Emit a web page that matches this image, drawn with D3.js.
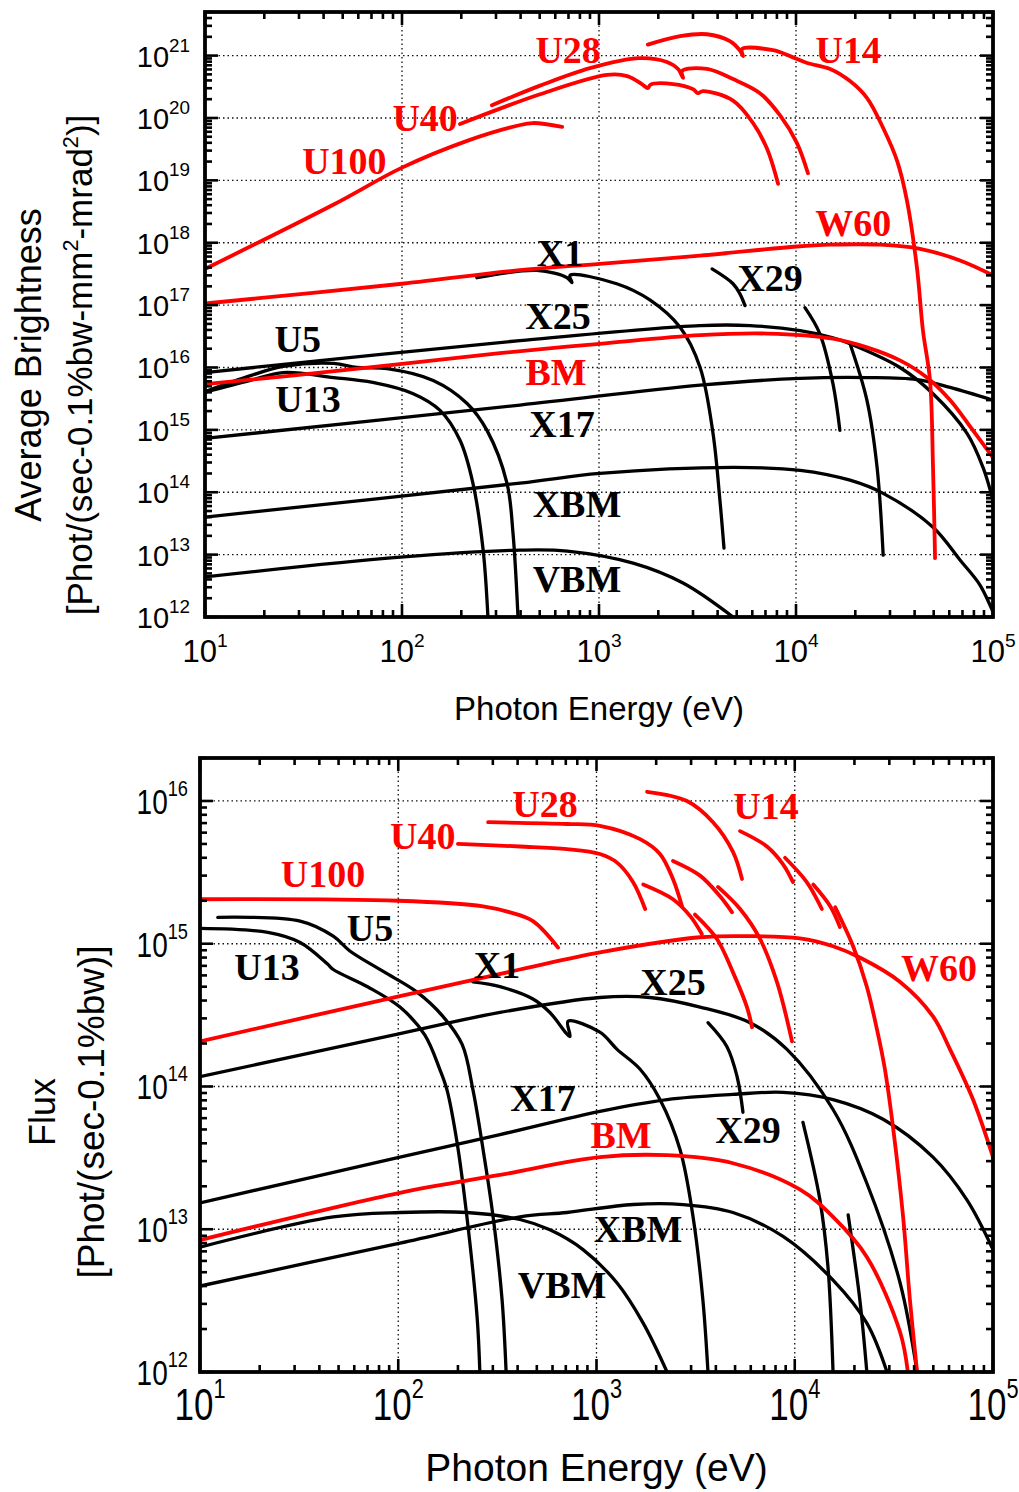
<!DOCTYPE html>
<html>
<head>
<meta charset="utf-8">
<script src="https://cdn.jsdelivr.net/npm/d3@7"></script>
<style>
  body { margin: 0; background: #fff; }
  svg { display: block; }
</style>
</head>
<body>
<svg width="1019" height="1492"></svg>
<script>
// top panel: average brightness, [eV, Phot/(sec-0.1%bw-mm2-mrad2)]
var briU100 = [[10, 3.8e17], [45, 4.1e18], [100, 1.6e19], [214, 4.3e19], [384, 7.5e19], [462, 8.3e19], [650, 7.2e19]]
var briU40 = [[197, 8.0e19], [502, 2.4e20], [1100, 4.9e20], [1390, 4.7e20], [1650, 3.5e20], [1770, 3.0e20], [1820, 3.4e20], [2380, 3.5e20], [3000, 2.9e20], [3180, 2.5e20], [3370, 2.7e20], [4790, 1.9e20], [6050, 8.3e19], [7130, 3.2e19], [8110, 8.8e18]]
var briU28 = [[286, 1.6e20], [502, 3.3e20], [900, 6.3e20], [1610, 9.1e20], [2210, 7.9e20], [2520, 6.1e20], [2670, 4.4e20], [2640, 5.7e20], [3530, 6.1e20], [4790, 4.2e20], [6560, 2.5e20], [8300, 1.1e20], [10100, 4.0e19], [11500, 1.3e19]]
var briU14 = [[1770, 1.5e21], [2580, 2.05e21], [3530, 2.2e21], [4620, 1.7e21], [5200, 1.2e21], [5380, 9.8e20], [5320, 1.27e21], [7640, 1.22e21], [9330, 9.8e20], [11400, 7.6e20], [14900, 6.1e20], [18800, 3.9e20], [22900, 2.1e20], [27700, 6.9e19], [32600, 2.05e19], [36600, 4.7e18], [41100, 4.0e17], [44100, 3.9e16], [47900, 6.2e15], [49600, 2.5e14], [50800, 8.8e12]]
var briW60 = [[10, 1.06e17], [100, 2.2e17], [384, 3.6e17], [1010, 4.6e17], [3260, 6.2e17], [10100, 8.7e17], [14900, 9.3e17], [26700, 9.3e17], [42600, 8.0e17], [68000, 5.2e17], [100000, 3.0e17]]
var briBM = [[10, 5.4e15], [55, 9.3e15], [314, 1.7e16], [1010, 2.4e16], [3260, 3.3e16], [7130, 3.5e16], [15400, 2.9e16], [22900, 2.1e16], [33700, 1.3e16], [46200, 6.9e15], [60500, 3.0e15], [79100, 9.8e14], [100000, 3.6e14]]
var briX25 = [[10, 8.3e15], [397, 2.7e16], [3260, 4.7e16], [5840, 4.7e16], [10500, 3.9e16], [15400, 3.0e16], [18800, 2.4e16], [33700, 1.0e16], [49600, 3.8e15], [73800, 8.8e14], [89000, 2.5e14], [100000, 7.4e13]]
var briX17 = [[10, 7.3e14], [397, 2.5e15], [3260, 5.2e15], [10500, 6.7e15], [22900, 6.9e15], [41100, 6.4e15], [60500, 4.8e15], [100000, 3.0e15]]
var briXBM = [[10, 4.0e13], [397, 1.4e14], [1010, 2.0e14], [4790, 2.5e14], [10500, 2.25e14], [18800, 1.56e14], [27700, 9.6e13], [49600, 2.75e13], [68000, 8.2e12], [85900, 3.25e12], [100000, 1.2e12]]
var briVBM = [[10, 4.4e12], [98, 9.1e12], [397, 1.18e13], [690, 1.14e13], [1490, 7.3e12], [2670, 3.5e12], [4790, 1.0e12]]
var briU5 = [[10, 4.1e15], [17, 7.4e15], [25, 1.04e16], [45, 1.16e16], [59, 1.0e16], [84, 9.6e15], [144, 6.2e15], [214, 2.65e15], [270, 9.8e14], [341, 1.4e14], [366, 2.2e13], [388, 1.0e12]]
var briU13 = [[10, 4.0e15], [17, 6.2e15], [25, 8.3e15], [45, 6.9e15], [71, 5.75e15], [114, 3.8e15], [156, 2.05e15], [197, 6.8e14], [229, 1.4e14], [258, 1.2e13], [273, 1.0e12]]
var briX1 = [[240, 2.75e17], [484, 3.6e17], [689, 2.75e17], [729, 2.3e17], [713, 3.0e17], [1230, 2.2e17], [1820, 1.2e17], [2580, 4.4e16], [3260, 1.0e16], [3790, 8.8e14], [4110, 7.4e13], [4310, 1.27e13]]
var briX29 = [[3750, 3.8e17], [4790, 2.2e17], [5200, 1.5e17], [5510, 9.8e16]]
var briX29b = [[11100, 9.1e16], [13200, 3.5e16], [15400, 5.5e15], [16700, 9.8e14]]
var briX29c = [[18800, 2.4e16], [22900, 3.0e15], [25800, 2.5e14], [27700, 9.8e12]]

// bottom panel: flux, [eV, Phot/(sec-0.1%bw)]
var fluxU100 = [[10, 2.05e15], [100, 2.0e15], [268, 1.83e15], [366, 1.66e15], [478, 1.44e15], [640, 9.4e14]]
var fluxU40 = [[200, 5.0e15], [411, 4.8e15], [710, 4.6e15], [1040, 4.25e15], [1270, 3.7e15], [1530, 2.7e15], [1760, 1.75e15]]
var fluxU28 = [[284, 7.1e15], [710, 6.9e15], [1040, 6.7e15], [1660, 5.4e15], [2090, 4.25e15], [2430, 2.84e15], [2700, 1.83e15]]
var fluxU40b = [[1720, 2.6e15], [2430, 2.05e15], [2970, 1.56e15], [3400, 1.17e15]]
var fluxU40c = [[3140, 1.6e15], [4050, 1.08e15], [4880, 6.3e14], [5740, 3.6e14], [6090, 2.6e14]]
var fluxU28b = [[2430, 3.8e15], [3330, 3.0e15], [4200, 2.15e15], [4830, 1.66e15]]
var fluxU28c = [[4100, 2.5e15], [5300, 1.75e15], [6680, 1.08e15], [8130, 5.4e14], [9690, 2.07e14]]
var fluxU14 = [[1800, 1.16e16], [2860, 1.0e16], [3870, 7.1e15], [4880, 4.4e15], [5420, 2.84e15]]
var fluxU14b = [[5300, 6.15e15], [7240, 4.8e15], [8730, 3.6e15], [9800, 2.7e15]]
var fluxU14c = [[8930, 4.0e15], [11500, 2.7e15], [13700, 1.75e15]]
var fluxU14d = [[12400, 2.6e15], [15100, 1.83e15], [16900, 1.31e15]]
var fluxU14e = [[16000, 1.8e15], [19700, 9.6e14], [23100, 5.0e14], [26000, 2.5e14], [28500, 1.32e14], [31300, 5.2e13], [35200, 1.22e13], [38100, 3.2e12], [41400, 1.0e12]]
var fluxW60 = [[10, 2.07e14], [102, 4.3e14], [411, 6.6e14], [1040, 8.7e14], [3330, 1.11e15], [5950, 1.13e15], [10600, 1.09e15], [15600, 9.6e14], [21300, 8.0e14], [34000, 5.4e14], [49800, 3.1e14], [60700, 1.82e14], [79300, 8.1e13], [100000, 3.2e13]]
var fluxBM = [[10, 8.4e12], [102, 1.8e13], [326, 2.4e13], [1040, 3.2e13], [2270, 3.3e13], [4880, 2.9e13], [10600, 1.9e13], [15600, 1.22e13], [23100, 6.4e12], [34000, 1.9e12], [37200, 1.0e12]]
var fluxU5 = [[12.3, 1.53e15], [32, 1.44e15], [47, 1.13e15], [57, 8.9e14], [84, 6.4e14], [124, 4.6e14], [168, 3.1e14], [210, 1.97e14], [238, 9.5e13], [268, 3.6e13], [301, 1.22e13], [334, 3.2e12], [350, 1.0e12]]
var fluxU13 = [[10, 1.28e15], [22, 1.2e15], [32, 1.02e15], [44, 7.2e14], [47, 6.6e14], [70, 5.0e14], [102, 3.6e14], [136, 2.3e14], [162, 1.32e14], [176, 9.5e13], [198, 4.05e13], [222, 1.22e13], [250, 2.4e12], [258, 1.0e12]]
var fluxX1 = [[238, 5.4e14], [326, 5.0e14], [478, 4.1e14], [582, 3.3e14], [735, 2.24e14], [718, 2.86e14], [1040, 2.4e14], [1270, 1.82e14], [1660, 1.32e14], [2090, 8.1e13], [2640, 3.6e13], [3070, 1.22e13], [3440, 3.2e12], [3650, 1.0e12]]
var fluxX25 = [[10, 1.17e14], [102, 2.35e14], [326, 3.3e14], [1040, 4.2e14], [1860, 4.2e14], [3330, 3.6e14], [5950, 2.8e14], [9140, 1.82e14], [15600, 6.9e13], [23100, 2.1e13], [34000, 4.2e12], [41400, 1.0e12]]
var fluxX17 = [[10, 1.53e13], [102, 3.2e13], [326, 4.6e13], [1040, 6.7e13], [2270, 8.1e13], [4880, 8.8e13], [8730, 9.1e13], [15600, 8.1e13], [27900, 5.9e13], [49800, 3.2e13], [74000, 1.6e13], [100000, 7.2e12]]
var fluxXBM = [[10, 4.0e12], [102, 8.0e12], [411, 1.22e13], [710, 1.31e13], [1530, 1.49e13], [2730, 1.49e13], [4880, 1.31e13], [8730, 8.9e12], [15600, 4.4e12], [23100, 2.2e12], [29200, 1.0e12]]
var fluxVBM = [[10, 7.5e12], [47, 1.22e13], [102, 1.31e13], [222, 1.31e13], [411, 1.17e13], [582, 9.9e12], [855, 7.2e12], [1270, 4.2e12], [1720, 2.2e12], [2270, 1.0e12]]
var fluxX29 = [[3650, 2.8e14], [4550, 1.9e14], [5120, 1.17e14], [5480, 6.6e13]]
var fluxX29b = [[11000, 5.6e13], [13400, 1.6e13], [14700, 5.5e12], [15600, 1.0e12]]
var fluxX29c = [[18600, 1.26e13], [21300, 3.2e12], [23100, 1.0e12]]

// curve names and where they are written, [text, eV, value]
var briLabels = [['U28', 697, 7.6e20], ['U14', 18400, 7.6e20], ['U40', 131, 6.2e19], ['U100', 51, 1.27e19],
  ['W60', 19500, 1.29e18], ['X1', 634, 4.3e17], ['X29', 7380, 1.71e17], ['X25', 620, 4.2e16], ['U5', 29.6, 1.74e16],
  ['BM', 605, 5.15e15], ['U13', 33.3, 1.9e15], ['X17', 649, 7.6e14], ['XBM', 773, 4.0e13], ['VBM', 773, 2.5e12]]
var fluxLabels = [['U28', 550, 7.7e15], ['U14', 7160, 7.5e15], ['U40', 133, 4.6e15], ['U100', 41.7, 2.49e15],
  ['U5', 72, 1.04e15], ['U13', 21.8, 5.6e14], ['X1', 315, 5.8e14], ['W60', 53400, 5.5e14], ['X25', 2430, 4.4e14],
  ['X17', 537, 6.7e13], ['BM', 1330, 3.7e13], ['X29', 5810, 4.05e13], ['XBM', 1620, 8.2e12], ['VBM', 670, 3.3e12]]
var redNames = ['U100', 'U40', 'U28', 'U14', 'W60', 'BM']

var xDecades = [1e1, 1e2, 1e3, 1e4, 1e5]

var RED = '#ff0000'
var svg = d3.select('svg')

function minorTicks (lo, hi) {
  var out = []
  for (var d = lo; d < hi; d *= 10) {
    for (var k = 2; k <= 9; k++) out.push(d * k)
  }
  return out
}

function powText (sel, v, base, sup, dy) {
  var e = Math.round(Math.log10(v))
  sel.append('tspan').text('10').style('font-size', base + 'px')
  sel.append('tspan').text(e).attr('dy', dy).style('font-size', sup + 'px')
}

function drawPanel (p) {
  var g = svg.append('g')
  var x = d3.scaleLog().domain([10, 1e5]).range([p.left, p.right])
  var y = d3.scaleLog().domain(p.yDomain).range([p.bottom, p.top])
  var yDecades = p.yDecades

  g.append('clipPath').attr('id', p.id)
    .append('rect')
    .attr('x', p.left).attr('y', p.top)
    .attr('width', p.right - p.left).attr('height', p.bottom - p.top)

  // dotted grid at the decades
  var grid = g.append('g')
    .attr('stroke', '#111')
    .attr('stroke-width', 1.3)
    .attr('stroke-dasharray', '1.5,3')
  grid.selectAll('.gx').data(xDecades.slice(1, -1)).enter().append('line')
    .attr('x1', d => x(d)).attr('x2', d => x(d))
    .attr('y1', p.top).attr('y2', p.bottom)
  grid.selectAll('.gy').data(yDecades.slice(1)).enter().append('line')
    .attr('y1', d => y(d)).attr('y2', d => y(d))
    .attr('x1', p.left).attr('x2', p.right)

  var line = d3.line()
    .x(d => x(d[0]))
    .y(d => y(d[1]))
    .curve(d3.curveCatmullRom.alpha(0.5))

  var curves = g.append('g').attr('clip-path', 'url(#' + p.id + ')')
    .attr('fill', 'none')
    .attr('stroke-linecap', 'round')
    .attr('stroke-linejoin', 'round')
  p.black.forEach(function (s) {
    curves.append('path').attr('d', line(s)).attr('stroke', '#000').attr('stroke-width', 3.3)
  })
  p.red.forEach(function (s) {
    curves.append('path').attr('d', line(s)).attr('stroke', RED).attr('stroke-width', 3.8)
  })

  // ticks, inward on all four sides
  var ticks = g.append('g').attr('stroke', '#000').attr('stroke-width', 2.6)
  var xMinor = minorTicks(10, 1e5)
  var yMinor = minorTicks(yDecades[0], p.yDomain[1]).filter(d => d <= p.yDomain[1])
  function xTick (list, len) {
    list.forEach(function (d) {
      ticks.append('line').attr('x1', x(d)).attr('x2', x(d)).attr('y1', p.bottom).attr('y2', p.bottom - len)
      ticks.append('line').attr('x1', x(d)).attr('x2', x(d)).attr('y1', p.top).attr('y2', p.top + len)
    })
  }
  function yTick (list, len) {
    list.forEach(function (d) {
      ticks.append('line').attr('y1', y(d)).attr('y2', y(d)).attr('x1', p.left).attr('x2', p.left + len)
      ticks.append('line').attr('y1', y(d)).attr('y2', y(d)).attr('x1', p.right).attr('x2', p.right - len)
    })
  }
  xTick(xMinor, 7)
  xTick(xDecades, 13)
  yTick(yMinor, 7)
  yTick(yDecades, 13)

  g.append('rect')
    .attr('x', p.left).attr('y', p.top)
    .attr('width', p.right - p.left).attr('height', p.bottom - p.top)
    .attr('fill', 'none').attr('stroke', '#000').attr('stroke-width', 3.8)

  // tick labels
  var font = 'Liberation Sans, Arial, sans-serif'
  xDecades.forEach(function (d) {
    var t = g.append('text')
      .attr('transform', 'translate(' + x(d) + ',' + p.xLabelY + ') scale(1,' + p.stretch + ')')
      .attr('text-anchor', 'middle').style('font-family', font)
    powText(t, d, p.xTickSize, p.xTickSize * 0.62, -p.xTickSize * 0.5)
  })
  yDecades.forEach(function (d) {
    var t = g.append('text')
      .attr('transform', 'translate(' + (p.left - p.yLabelGap) + ',' + (y(d) + p.yLabelDrop) + ') scale(1,' + p.stretch + ')')
      .attr('text-anchor', 'end').style('font-family', font)
    powText(t, d, p.yTickSize, p.yTickSize * 0.65, -p.yTickSize * 0.52)
  })

  // axis titles
  g.append('text')
    .attr('x', (p.left + p.right) / 2).attr('y', p.xTitleY)
    .attr('text-anchor', 'middle').style('font-family', font).style('font-size', p.xTitleSize + 'px')
    .text('Photon Energy (eV)')
  p.yTitles.forEach(function (tl) {
    var t = g.append('text')
      .attr('transform', 'translate(' + tl.x + ',' + p.yTitleMid + ') rotate(-90)')
      .attr('text-anchor', 'middle').style('font-family', font).style('font-size', tl.size + 'px')
    tl.parts.forEach(function (part) {
      var ts = t.append('tspan').text(part[0])
      if (part[1]) ts.attr('dy', part[1])
      ts.style('font-size', (part[2] ? tl.size * 0.62 : tl.size) + 'px')
    })
  })

  // curve names
  g.selectAll('.lab').data(p.labels).enter().append('text')
    .attr('x', d => x(d[1])).attr('y', d => y(d[2]))
    .attr('text-anchor', 'middle')
    .style('font-family', 'Liberation Serif, Times New Roman, serif')
    .style('font-weight', 'bold')
    .style('font-size', '38px')
    .attr('fill', d => redNames.indexOf(d[0]) >= 0 ? RED : '#000')
    .text(d => d[0])
}

drawPanel({
  id: 'clipBri',
  left: 205, right: 993, top: 12, bottom: 617,
  yDomain: [1e12, 5e21],
  yDecades: [1e12, 1e13, 1e14, 1e15, 1e16, 1e17, 1e18, 1e19, 1e20, 1e21],
  black: [briX25, briX17, briXBM, briVBM, briU5, briU13, briX1, briX29, briX29b, briX29c],
  red: [briU100, briU40, briU28, briU14, briW60, briBM],
  labels: briLabels,
  stretch: 1,
  xLabelY: 662, xTickSize: 31,
  yLabelGap: 15, yLabelDrop: 11, yTickSize: 29,
  xTitleY: 720, xTitleSize: 33,
  yTitleMid: 365,
  yTitles: [
    { x: 41, size: 36, parts: [['Average Brightness']] },
    { x: 92, size: 35, parts: [['[Phot/(sec-0.1%bw-mm'], ['2', -14, true], ['-mrad', 14], ['2', -14, true], [')]', 14]] }
  ]
})

drawPanel({
  id: 'clipFlux',
  left: 200, right: 993, top: 758, bottom: 1372,
  yDomain: [1e12, 2e16],
  yDecades: [1e12, 1e13, 1e14, 1e15, 1e16],
  black: [fluxX25, fluxX17, fluxXBM, fluxVBM, fluxU5, fluxU13, fluxX1, fluxX29, fluxX29b, fluxX29c],
  red: [fluxU100, fluxU40, fluxU28, fluxU40b, fluxU40c, fluxU28b, fluxU28c, fluxU14, fluxU14b, fluxU14c, fluxU14d, fluxU14e, fluxW60, fluxBM],
  labels: fluxLabels,
  stretch: 1.25,
  xLabelY: 1420, xTickSize: 35,
  yLabelGap: 12, yLabelDrop: 13, yTickSize: 28,
  xTitleY: 1481, xTitleSize: 39,
  yTitleMid: 1112,
  yTitles: [
    { x: 55, size: 36, parts: [['Flux']] },
    { x: 104, size: 37, parts: [['[Phot/(sec-0.1%bw)]']] }
  ]
})
</script>
</body>
</html>
